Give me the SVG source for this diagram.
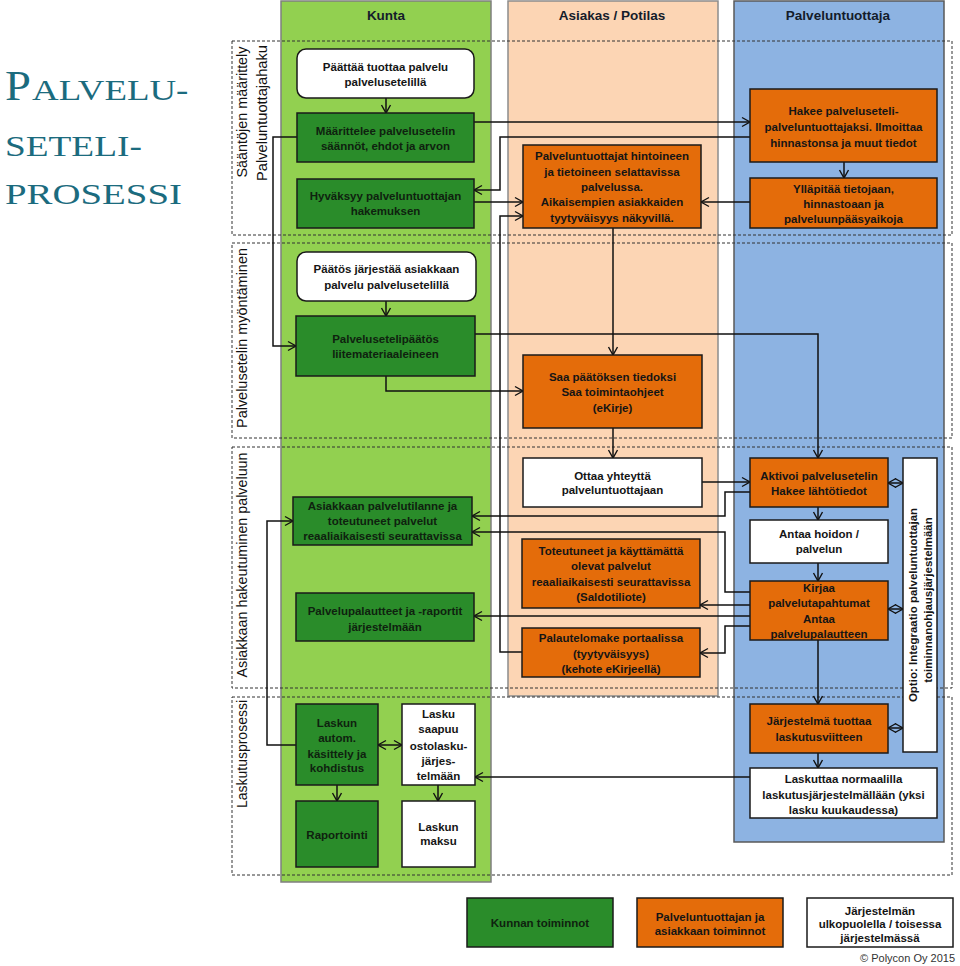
<svg xmlns="http://www.w3.org/2000/svg" width="960" height="966" viewBox="0 0 960 966">
<style>
.col-g{fill:#92D050;stroke:#7f7f7f;stroke-width:1.5}
.col-p{fill:#FCD5B4;stroke:#8c8c8c;stroke-width:1.5}
.col-b{fill:#8DB3E2;stroke:#595959;stroke-width:1.5}
.lane{fill:none;stroke:#333;stroke-width:1;stroke-dasharray:3,2}
.hdr{font-family:"Liberation Sans",Arial,sans-serif;font-weight:bold;font-size:13.5px;fill:#141c2b;text-anchor:middle}
.lbl{font-family:"Liberation Sans",Arial,sans-serif;font-size:14px;fill:#111;text-anchor:middle}
.dg{fill:#2a8c2a;stroke:#1a1a1a;stroke-width:1.5}
.or{fill:#E46C0A;stroke:#1a1a1a;stroke-width:1.5}
.wh{fill:#fff;stroke:#1a1a1a;stroke-width:1.5}
.t{font-family:"Liberation Sans",Arial,sans-serif;font-weight:bold;font-size:11.5px;fill:#151515;text-anchor:middle}
.tg{fill:#0f220f}
.c{fill:none;stroke:#111;stroke-width:1.5}
.title{font-family:"Liberation Serif","Times New Roman",serif;fill:#1b6b7e}
</style>
<defs>
<marker id="ah" markerWidth="12" markerHeight="12" refX="10" refY="6" orient="auto-start-reverse" markerUnits="userSpaceOnUse">
<path d="M2,1.5 L10,6 L2,10.5" fill="none" stroke="#111" stroke-width="1.4"/>
</marker>
</defs>

<g id="title">
<text class="title" transform="translate(5,100) scale(1.11,1)" font-size="42">P</text>
<text class="title" transform="translate(32,100) scale(1.23,1)" font-size="30">ALVELU-</text>
<text class="title" transform="translate(5,156) scale(1.245,1)" font-size="30">SETELI-</text>
<text class="title" transform="translate(5,204) scale(1.295,1)" font-size="30">PROSESSI</text>
</g>

<g id="columns">
<rect class="col-g" x="281" y="1" width="210" height="881"/>
<rect class="col-p" x="508" y="1" width="210" height="695"/>
<rect class="col-b" x="734" y="1" width="210" height="841"/>
<text class="hdr" x="386" y="20">Kunta</text>
<text class="hdr" x="612" y="20">Asiakas / Potilas</text>
<text class="hdr" x="838" y="20">Palveluntuottaja</text>
</g>

<g id="lanes">
<rect class="lane" x="232" y="41" width="720" height="194"/>
<rect class="lane" x="232" y="243" width="720" height="195"/>
<rect class="lane" x="232" y="447" width="720" height="241"/>
<rect class="lane" x="232" y="697" width="720" height="178"/>
<text class="lbl" transform="translate(247,112) rotate(-90)" textLength="131" lengthAdjust="spacingAndGlyphs">Sääntöjen määrittely</text>
<text class="lbl" transform="translate(267,113) rotate(-90)" textLength="136" lengthAdjust="spacingAndGlyphs">Palveluntuottajahaku</text>
<text class="lbl" transform="translate(247,338) rotate(-90)" textLength="180" lengthAdjust="spacingAndGlyphs">Palvelusetelin  myöntäminen</text>
<text class="lbl" transform="translate(247,565) rotate(-90)" textLength="225" lengthAdjust="spacingAndGlyphs">Asiakkaan hakeutuminen  palveluun</text>
<text class="lbl" transform="translate(247,754) rotate(-90)" textLength="108" lengthAdjust="spacingAndGlyphs">Laskutusprosessi</text>
</g>

<g id="connectors">
<path class="c" d="M386,98 V113" marker-end="url(#ah)"/>
<path class="c" d="M474,122 H750" marker-end="url(#ah)"/>
<path class="c" d="M750,137 H500 V190 H474" marker-end="url(#ah)"/>
<path class="c" d="M474,202 H523" marker-end="url(#ah)"/>
<path class="c" d="M297,137 H273 V346 H296" marker-end="url(#ah)"/>
<path class="c" d="M522,652 H500 V216 H523" marker-end="url(#ah)"/>
<path class="c" d="M750,202 H701" marker-end="url(#ah)"/>
<path class="c" d="M844,162 V178" marker-end="url(#ah)"/>
<path class="c" d="M613,228 V355" marker-end="url(#ah)"/>
<path class="c" d="M386,301 V316" marker-end="url(#ah)"/>
<path class="c" d="M475,334 H818 V458" marker-end="url(#ah)"/>
<path class="c" d="M386,376 V391 H523" marker-end="url(#ah)"/>
<path class="c" d="M613,428 V458" marker-end="url(#ah)"/>
<path class="c" d="M702,482 H750" marker-end="url(#ah)"/>
<path class="c" d="M750,492 H725 V516 H472" marker-end="url(#ah)"/>
<path class="c" d="M750,592 H725 V532 H472" marker-end="url(#ah)"/>
<path class="c" d="M750,605 H700" marker-end="url(#ah)"/>
<path class="c" d="M750,616 H474" marker-end="url(#ah)"/>
<path class="c" d="M750,626 H725 V653 H700" marker-end="url(#ah)"/>
<path class="c" d="M818,507 V520" marker-end="url(#ah)"/>
<path class="c" d="M818,563 V581" marker-end="url(#ah)"/>
<path class="c" d="M818,640 V704" marker-end="url(#ah)"/>
<path class="c" d="M818,753 V768" marker-end="url(#ah)"/>
<path class="c" d="M750,777 H475" marker-end="url(#ah)"/>
<path class="c" d="M296,745 H267 V521 H293" marker-end="url(#ah)"/>
<path class="c" d="M378,745 H402" marker-start="url(#ah)" marker-end="url(#ah)"/>
<path class="c" d="M337,785 V801" marker-end="url(#ah)"/>
<path class="c" d="M438,785 V801" marker-end="url(#ah)"/>
<path class="c" d="M888,483 H903" marker-start="url(#ah)" marker-end="url(#ah)"/>
<path class="c" d="M888,609 H903" marker-start="url(#ah)" marker-end="url(#ah)"/>
<path class="c" d="M888,728 H903" marker-start="url(#ah)" marker-end="url(#ah)"/>
</g>

<g id="n-paattaa">
<rect class="wh" x="297" y="49" width="177" height="49" rx="9"/>
<text class="t" x="385.5" y="71">Päättää tuottaa palvelu</text>
<text class="t" x="385.5" y="86">palvelusetelillä</text>
</g>
<g id="n-maarittelee">
<rect class="dg" x="297" y="113" width="177" height="49"/>
<text class="t tg" x="385.5" y="135">Määrittelee palvelusetelin</text>
<text class="t tg" x="385.5" y="150">säännöt, ehdot ja arvon</text>
</g>
<g id="n-hyvaksyy">
<rect class="dg" x="297" y="179" width="177" height="49"/>
<text class="t tg" x="385.5" y="200">Hyväksyy palveluntuottajan</text>
<text class="t tg" x="385.5" y="215">hakemuksen</text>
</g>
<g id="n-paatos">
<rect class="wh" x="297" y="252" width="179" height="49" rx="9"/>
<text class="t" x="386.5" y="273">Päätös järjestää asiakkaan</text>
<text class="t" x="386.5" y="289">palvelu palvelusetelillä</text>
</g>
<g id="n-psetelipaatos">
<rect class="dg" x="296" y="316" width="179" height="60"/>
<text class="t tg" x="385.5" y="343">Palvelusetelipäätös</text>
<text class="t tg" x="385.5" y="358">liitemateriaaleineen</text>
</g>
<g id="n-selattavissa">
<rect class="or" x="523" y="145" width="178" height="83"/>
<text class="t" x="612" y="160">Palveluntuottajat hintoineen</text>
<text class="t" x="612" y="176">ja tietoineen selattavissa</text>
<text class="t" x="612" y="191">palvelussa.</text>
<text class="t" x="612" y="206">Aikaisempien asiakkaiden</text>
<text class="t" x="612" y="222">tyytyväisyys näkyvillä.</text>
</g>
<g id="n-saapaatoksen">
<rect class="or" x="523" y="355" width="179" height="73"/>
<text class="t" x="612.5" y="381">Saa päätöksen tiedoksi</text>
<text class="t" x="612.5" y="396">Saa toimintaohjeet</text>
<text class="t" x="612.5" y="412">(eKirje)</text>
</g>
<g id="n-ottaa">
<rect class="wh" x="523" y="458" width="179" height="49"/>
<text class="t" x="612.5" y="480">Ottaa yhteyttä</text>
<text class="t" x="612.5" y="494">palveluntuottajaan</text>
</g>
<g id="n-saldotiliote">
<rect class="or" x="522" y="539" width="178" height="69"/>
<text class="t" x="611" y="555">Toteutuneet ja käyttämättä</text>
<text class="t" x="611" y="570">olevat palvelut</text>
<text class="t" x="611" y="586">reaaliaikaisesti seurattavissa</text>
<text class="t" x="611" y="601">(Saldotiliote)</text>
</g>
<g id="n-palautelomake">
<rect class="or" x="522" y="628" width="178" height="49"/>
<text class="t" x="611" y="642">Palautelomake portaalissa</text>
<text class="t" x="611" y="658">(tyytyväisyys)</text>
<text class="t" x="611" y="673">(kehote eKirjeellä)</text>
</g>
<g id="n-palvelutilanne">
<rect class="dg" x="293" y="497" width="179" height="48"/>
<text class="t tg" x="382.5" y="510">Asiakkaan palvelutilanne ja</text>
<text class="t tg" x="382.5" y="525">toteutuneet palvelut</text>
<text class="t tg" x="382.5" y="540">reaaliaikaisesti seurattavissa</text>
</g>
<g id="n-palvelupalautteet">
<rect class="dg" x="296" y="593" width="178" height="48"/>
<text class="t tg" x="385" y="615">Palvelupalautteet ja -raportit</text>
<text class="t tg" x="385" y="631">järjestelmään</text>
</g>
<g id="n-hakee">
<rect class="or" x="750" y="89" width="187" height="73"/>
<text class="t" x="843.5" y="115">Hakee palveluseteli-</text>
<text class="t" x="843.5" y="131">palveluntuottajaksi. Ilmoittaa</text>
<text class="t" x="843.5" y="147">hinnastonsa ja muut tiedot</text>
</g>
<g id="n-yllapitaa">
<rect class="or" x="750" y="178" width="187" height="50"/>
<text class="t" x="843.5" y="193">Ylläpitää tietojaan,</text>
<text class="t" x="843.5" y="208">hinnastoaan ja</text>
<text class="t" x="843.5" y="223">palveluunpääsyaikoja</text>
</g>
<g id="n-aktivoi">
<rect class="or" x="750" y="458" width="138" height="49"/>
<text class="t" x="819" y="480">Aktivoi palvelusetelin</text>
<text class="t" x="819" y="495">Hakee lähtötiedot</text>
</g>
<g id="n-antaa">
<rect class="wh" x="750" y="520" width="138" height="43"/>
<text class="t" x="819" y="538">Antaa hoidon /</text>
<text class="t" x="819" y="553">palvelun</text>
</g>
<g id="n-kirjaa">
<rect class="or" x="750" y="581" width="138" height="59"/>
<text class="t" x="819" y="592">Kirjaa</text>
<text class="t" x="819" y="607">palvelutapahtumat</text>
<text class="t" x="819" y="623">Antaa</text>
<text class="t" x="819" y="638">palvelupalautteen</text>
</g>
<g id="n-optio">
<rect class="wh" x="903" y="458" width="34" height="294"/>
<text class="t" transform="translate(917,605) rotate(-90)">Optio: Integraatio palveluntuottajan</text>
<text class="t" transform="translate(932,600) rotate(-90)">toiminnanohjausjärjestelmään</text>
</g>
<g id="n-laskutusviite">
<rect class="or" x="750" y="704" width="138" height="49"/>
<text class="t" x="819" y="725">Järjestelmä tuottaa</text>
<text class="t" x="819" y="741">laskutusviitteen</text>
</g>
<g id="n-laskuttaa">
<rect class="wh" x="750" y="768" width="187" height="50"/>
<text class="t" x="843.5" y="783">Laskuttaa normaalilla</text>
<text class="t" x="843.5" y="799">laskutusjärjestelmällään (yksi</text>
<text class="t" x="843.5" y="814">lasku kuukaudessa)</text>
</g>
<g id="n-laskunkasittely">
<rect class="dg" x="296" y="704" width="82" height="81"/>
<text class="t tg" x="337" y="727">Laskun</text>
<text class="t tg" x="337" y="742">autom.</text>
<text class="t tg" x="337" y="758">käsittely ja</text>
<text class="t tg" x="337" y="772">kohdistus</text>
</g>
<g id="n-laskusaapuu">
<rect class="wh" x="402" y="704" width="73" height="81"/>
<text class="t" x="438.5" y="718">Lasku</text>
<text class="t" x="438.5" y="733">saapuu</text>
<text class="t" x="438.5" y="750">ostolasku-</text>
<text class="t" x="438.5" y="765">järjes-</text>
<text class="t" x="438.5" y="780">telmään</text>
</g>
<g id="n-raportointi">
<rect class="dg" x="296" y="801" width="82" height="66"/>
<text class="t tg" x="337" y="839">Raportointi</text>
</g>
<g id="n-laskunmaksu">
<rect class="wh" x="402" y="801" width="73" height="66"/>
<text class="t" x="438.5" y="831">Laskun</text>
<text class="t" x="438.5" y="845">maksu</text>
</g>

<g id="legend">
<rect class="dg" x="467" y="898" width="146" height="49"/>
<text class="t tg" x="540" y="927">Kunnan toiminnot</text>
<rect class="or" x="637" y="898" width="146" height="49"/>
<text class="t" x="710" y="921">Palveluntuottajan ja</text>
<text class="t" x="710" y="935">asiakkaan toiminnot</text>
<rect class="wh" x="807" y="898" width="146" height="49"/>
<text class="t" x="880" y="915">Järjestelmän</text>
<text class="t" x="880" y="928">ulkopuolella / toisessa</text>
<text class="t" x="880" y="942">järjestelmässä</text>
<text x="955" y="962" text-anchor="end" font-family="'Liberation Sans',Arial,sans-serif" font-size="11" fill="#333">© Polycon Oy 2015</text>
</g>
</svg>
